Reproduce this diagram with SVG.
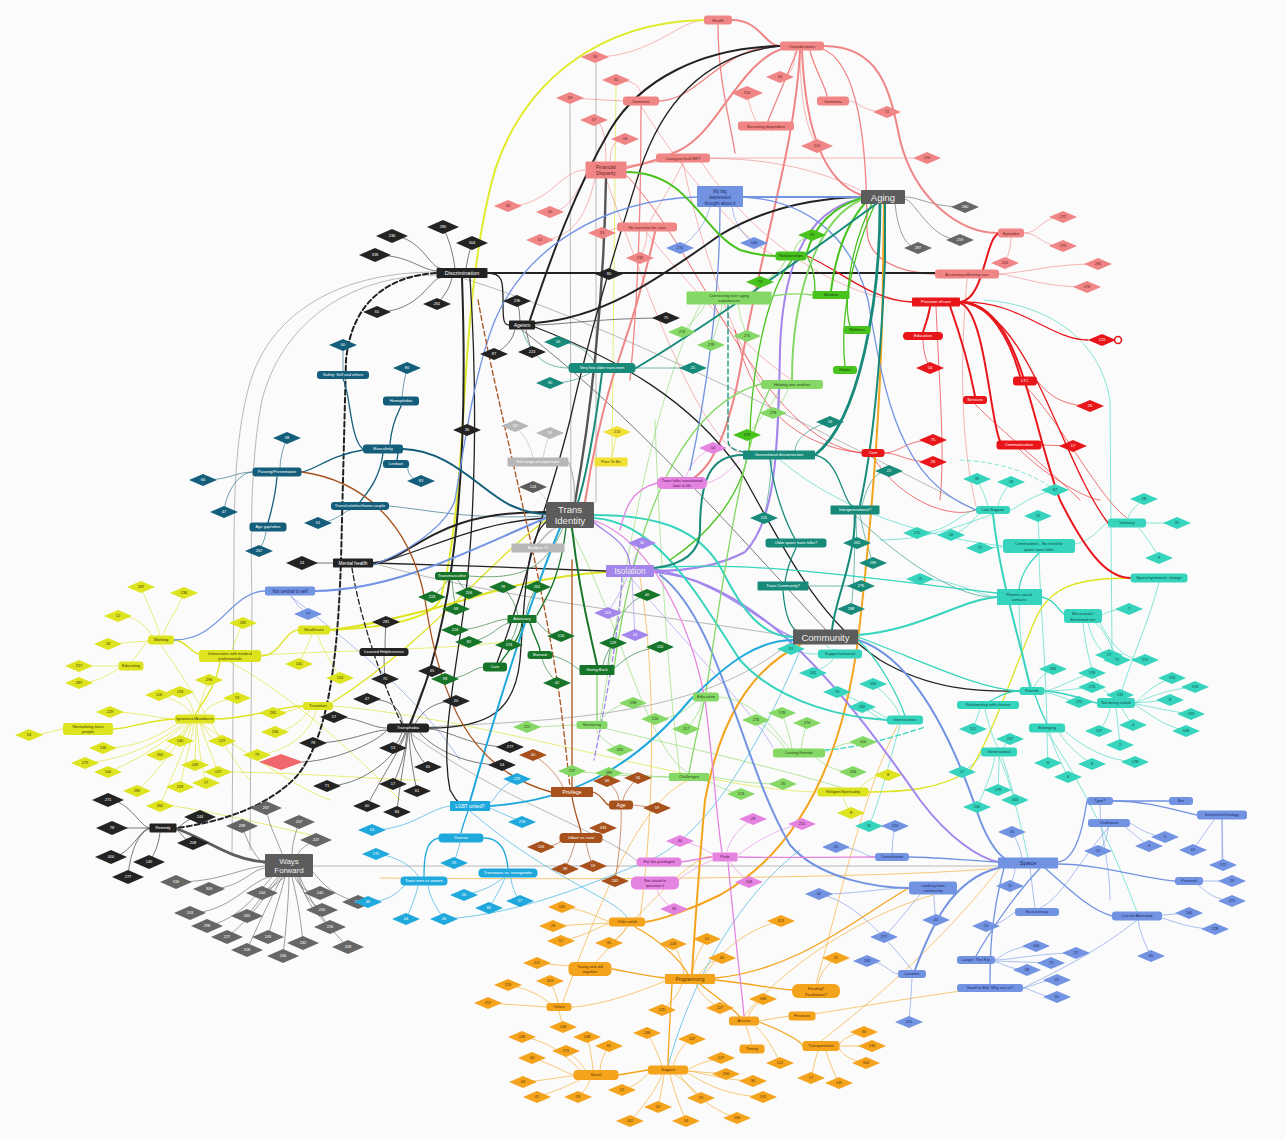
<svg xmlns="http://www.w3.org/2000/svg" width="1285" height="1140" viewBox="0 0 1285 1140">
<style>
text{font-family:"Liberation Sans",Arial,sans-serif;font-size:4px;text-anchor:middle;fill:#fff}
.pk{fill:#ef8585}.pk text{fill:#6b1f1f}
.rd{fill:#e8161b}.gy{fill:#5c5c5c}.bk{fill:#232323}.wg{fill:#666}.tl{fill:#145e7c}
.ye{fill:#dde31e}.ye text{fill:#3d3d00}.fy{fill:#f1e035}.fy text{fill:#4a3d00}
.dg{fill:#17752a}.lg{fill:#86d866}.lg text{fill:#1f4512}.bg{fill:#48c21d}.bg text{fill:#143d08}
.dt{fill:#178a7a}.tq{fill:#36d4bd}.tq text{fill:#0b4a43}.bl{fill:#7193e2}.bl text{fill:#1a2c66}
.cy{fill:#1fa8dc}.br{fill:#a7511c}.mg{fill:#e584e0}.mg text{fill:#5a1057}.pu{fill:#a385ec}
.lt{fill:#b7b7b7}.or{fill:#f4a31c}.or text{fill:#5a3300}.xr{fill:#f0676d}
.M{font-size:9.5px;fill:#eee}.S{font-size:5px}
#connectors path{fill:none;stroke-linecap:round}
.a{stroke-width:.7;stroke-opacity:.85}.b{stroke-width:1.3}.c{stroke-width:2}.d{stroke-width:2.8}
.ds{stroke-dasharray:5 3}
.Spk{stroke:#ef8585}.Srd{stroke:#e8161b}.Sbk{stroke:#222}.Sgy{stroke:#8a8a8a}.Swg{stroke:#5e5e5e}.Stl{stroke:#145e7c}
.Sye{stroke:#dde31e}.Sdg{stroke:#17752a}.Slg{stroke:#86d866}.Sbg{stroke:#48c21d}.Sdt{stroke:#178a7a}.Stq{stroke:#36d4bd}
.Sbl{stroke:#7193e2}.Scy{stroke:#1fa8dc}.Sbr{stroke:#a7511c}.Smg{stroke:#e584e0}.Spu{stroke:#a385ec}.Slt{stroke:#b7b7b7}.Sor{stroke:#f4a31c}
</style>
<defs>
<path id="d" d="M-14,0L0,-6L14,0L0,6Z"/>
<path id="D" d="M-16,0L0,-7L16,0L0,7Z"/>
</defs>
<rect width="1285" height="1140" fill="#fbfbfb"/>
<g id="connectors">
<!-- thin cross links -->
<path class="a Sgy" d="M596,63 L596,502"/>
<path class="a Sgy" d="M570,104 L571,502"/>
<path class="a Sye" d="M616,86 L612,457"/>
<path class="a Sgy" d="M373,563 C500,600 700,620 793,637"/>
<path class="a Sgy" d="M408,728 C550,720 700,720 793,640"/>
<path class="a Sgy" d="M462,278 C600,320 800,420 976,510"/>
<path class="a Sbk" d="M522,330 C640,420 760,560 826,630"/>
<path class="a Slg" d="M570,528 C620,620 650,760 690,773"/>
<path class="a Slg" d="M592,725 C650,740 750,760 843,788"/>
<path class="a Spk" d="M646,232 C700,300 760,360 792,380"/>
<path class="a Spk" d="M606,179 C650,300 700,440 743,455"/>
<path class="a Spk" d="M700,160 C760,250 850,300 912,302"/>
<path class="a Spk" d="M626,166 C720,150 800,160 860,190"/>
<path class="a Spk" d="M683,163 C700,250 740,350 761,384"/>
<path class="a Spk" d="M641,106 C700,200 760,250 775,256"/>
<path class="a Spk" d="M967,279 C960,360 960,440 976,506"/>
<path class="a Stq" d="M985,300 C1050,305 1100,340 1110,400 L1112,650"/>
<path class="a Sdt" d="M855,515 C900,560 960,600 997,597"/>
<path class="a Stq" d="M779,459 C850,520 950,540 1003,546"/>
<path class="a Spu" d="M630,577 C700,660 760,720 773,748"/>
<path class="a Sgy" d="M410,733 C500,800 600,830 636,860"/>
<path class="a Scy" d="M470,811 C550,880 620,900 627,918"/>
<path class="a Scy" d="M668,1066 C700,950 760,880 800,850"/>
<path class="a Sor" d="M560,1010 C600,900 640,800 689,780"/>
<path class="a Sor" d="M590,969 C650,900 700,850 712,857"/>
<path class="a Sor" d="M816,984 C840,900 860,800 900,720"/>
<path class="a Sor" d="M821,1041 C900,980 950,930 1000,868"/>
<path class="a Sor" d="M802,1016 C900,1000 960,990 990,988"/>
<path class="a Sor" d="M744,1016 C800,950 880,910 933,895"/>
<path class="a Sor" d="M998,868 C900,878 600,880 380,878"/>
<path class="a Sor" d="M640,577 C660,700 650,850 640,917"/>
<path class="a Sbl" d="M912,970 C880,930 850,900 819,894"/>
<path class="a Sbl" d="M1137,920 C1100,950 1060,970 1023,988"/>
<path class="a Sbl" d="M1109,827 C1080,860 1060,900 1040,908"/>
<path class="a Sbl" d="M1222,819 L1222,860"/>
<path class="a Sbl" d="M1100,805 C1100,840 1110,860 1110,900"/>
<path class="a Sbl" d="M290,596 C360,650 420,700 460,760"/>
<path class="a Stq" d="M1028,858 C1020,820 1010,780 999,757"/>
<path class="a Stq" d="M1047,732 C1080,780 1110,840 1137,912"/>
<path class="a Stq" d="M1083,623 C1090,680 1100,690 1116,698"/>
<path class="a Stq" d="M1019,605 C1020,650 1025,670 1032,687"/>
<path class="a Stq" d="M1159,582 C1150,620 1130,660 1120,698"/>
<path class="a Stq" d="M1039,553 C1040,600 1045,650 1047,724"/>
<path class="a Stq" d="M993,514 C950,530 920,540 880,540"/>
<path class="a Srd" d="M936,306 C940,400 945,450 940,500"/>
<path class="a Srd" d="M873,457 C900,500 950,520 976,510"/>
<path class="a Srd" d="M1025,386 C1060,420 1100,500 1127,518"/>
<path class="a Srd" d="M1019,449 C1050,480 1090,500 1100,500"/>
<path class="a Srd" d="M975,404 C1000,430 1050,470 1080,500"/>
<path class="a Srd" d="M626,175 C700,250 760,440 862,453"/>
<path class="a Srd" d="M862,453 C790,445 750,400 735,330"/>
<path class="a Sye" d="M230,662 C300,700 360,760 400,800"/>
<path class="a Sye" d="M193,719 C260,760 300,790 330,800"/>
<path class="a Sye" d="M161,645 C200,700 230,760 250,780"/>
<path class="a Sye" d="M174,806 C230,815 290,830 330,840"/>
<path class="a Sye" d="M218,772 C300,772 380,780 420,780"/>
<path class="a Sye" d="M261,655 C350,650 450,650 520,640"/>
<path class="a Sye" d="M333,706 C500,720 700,790 817,792"/>
<path class="a Sgy" d="M313,866 L998,866"/>
<path class="a Sbk" d="M303,762 C340,760 380,740 387,730"/>
<path class="a Scy" d="M444,919 C520,915 600,880 650,860 C720,830 780,700 800,650"/>
<path class="a Sgy" d="M436,272 C330,272 265,320 248,390 C235,440 234,500 234,560 L232,855"/>
<path class="a Sgy" d="M436,275 C340,276 280,330 262,400 C252,450 250,520 252,600 L250,850"/>
<path class="a Stl" d="M389,506 C430,510 470,520 546,516"/>
<path class="a Slg" d="M655,420 C660,560 670,700 680,773"/>
<path class="a Slg" d="M700,305 C650,400 620,600 600,721"/>
<path class="a Smg" d="M707,483 C720,480 730,470 740,460"/>
<path class="a Smg" d="M712,860 C690,870 680,878 679,880"/>
<path class="a Stq" d="M960,460 C1000,462 1030,472 1055,490" stroke-dasharray="4 3"/>
<!-- diamond links -->
<g class="a Spk">
<path d="M595,57 C650,57 680,20 704,20"/><path d="M616,80 Q641,80 641,96"/><path d="M570,98 L623,101"/><path d="M594,120 Q606,120 606,162"/><path d="M625,139 Q610,139 610,162"/><path d="M508,206 C550,206 560,170 585,170"/><path d="M550,212 C575,212 580,175 590,175"/><path d="M602,233 L617,228"/><path d="M540,240 C580,240 590,200 595,178"/><path d="M640,258 Q647,245 647,232"/><path d="M780,77 Q795,77 795,51"/><path d="M747,93 Q750,110 756,121"/><path d="M887,112 C860,112 860,101 849,101"/><path d="M913,158 L710,158"/><path d="M817,146 Q800,120 800,51"/><path d="M1063,217 C1040,217 1040,233 1024,233"/><path d="M1063,246 C1040,246 1040,233 1024,233"/><path d="M1005,263 Q1011,250 1011,237"/><path d="M1098,264 C1050,264 1030,272 999,274"/><path d="M1087,287 C1040,287 1020,276 999,274"/>
</g>
<g class="a Srd">
<path d="M930,368 Q923,355 923,340"/><path d="M933,440 C905,440 900,453 884,453"/><path d="M933,462 C905,462 900,453 884,453"/><path d="M1090,406 C1050,406 1040,381 1037,381"/><path d="M1073,446 L1041,445"/>
</g>
<g class="a Swg">
<path d="M965,207 C930,207 920,197 905,197"/><path d="M960,240 C930,240 915,200 905,199"/><path d="M918,248 Q900,248 895,204"/>
</g>
<g class="a Sbk">
<path d="M443,227 Q452,245 455,268"/><path d="M392,236 C420,236 430,268 440,268"/><path d="M472,243 Q468,255 466,268"/><path d="M375,255 C410,255 420,270 437,271"/><path d="M437,304 Q450,290 452,278"/><path d="M377,312 C420,312 430,278 440,278"/><path d="M517,301 Q520,310 520,321"/><path d="M494,354 Q512,345 515,330"/><path d="M532,352 Q528,340 526,330"/><path d="M666,318 C600,318 560,325 535,325"/><path d="M386,622 Q385,635 385,648"/><path d="M385,679 Q384,665 384,656"/><path d="M367,699 C395,699 400,710 403,724"/><path d="M456,701 C430,701 420,715 415,724"/><path d="M432,671 C420,690 415,710 412,724"/><path d="M334,717 C360,717 370,728 387,728"/><path d="M393,748 Q400,740 402,733"/><path d="M510,747 C470,747 450,730 429,729"/><path d="M316,563 L333,563"/><path d="M313,743 C350,743 370,730 387,730"/>
<path d="M108,800 C130,800 140,828 150,828"/><path d="M112,828 L150,828"/><path d="M111,857 C130,857 140,828 150,828"/><path d="M149,862 Q158,850 160,833"/><path d="M128,877 C130,850 140,830 150,829"/><path d="M200,817 C185,817 182,828 176,828"/><path d="M193,843 C185,843 180,830 176,829"/>
<path d="M327,786 C360,786 395,760 405,733"/><path d="M367,806 C380,780 400,750 406,733"/><path d="M393,784 Q405,760 407,733"/><path d="M417,791 Q410,760 409,733"/><path d="M428,767 Q412,750 411,733"/><path d="M397,812 C400,780 405,760 408,733"/><path d="M502,765 C460,765 430,745 420,733"/>
</g>
<g class="a Swg">
<path d="M242,826 C250,850 260,862 265,864"/><path d="M266,808 C270,830 280,845 282,854"/><path d="M299,822 C295,835 292,845 292,854"/><path d="M316,840 C305,845 300,850 298,854"/><path d="M176,882 C220,882 240,868 265,866"/><path d="M209,889 C240,889 250,870 265,868"/><path d="M262,893 C270,890 280,880 285,877"/><path d="M190,913 C230,913 250,880 270,877"/><path d="M247,916 C260,900 270,885 278,877"/><path d="M207,926 C240,920 260,890 272,877"/><path d="M227,937 C250,920 270,890 280,877"/><path d="M268,937 C275,910 282,890 285,877"/><path d="M303,943 C300,910 295,890 292,877"/><path d="M247,950 C260,920 275,890 282,877"/><path d="M283,956 C287,920 289,890 289,877"/><path d="M320,893 C305,893 298,885 295,877"/><path d="M322,910 C305,900 300,885 297,877"/><path d="M330,927 C310,910 302,890 299,877"/><path d="M348,947 C320,920 305,890 300,877"/><path d="M358,902 C330,895 320,880 313,872"/>
</g>
<g class="a Stl">
<path d="M287,438 Q280,455 280,468"/><path d="M203,480 C230,480 235,472 253,472"/><path d="M224,512 C226,490 240,472 253,472"/><path d="M318,523 C335,523 345,510 350,510"/><path d="M259,551 Q265,540 266,532"/><path d="M343,345 L343,371"/><path d="M407,368 Q403,385 402,397"/><path d="M421,481 C410,481 405,468 409,464"/>
</g>
<g class="a Sye">
<path d="M141,587 C150,610 158,625 160,636"/><path d="M184,593 C175,615 165,625 163,636"/><path d="M118,616 C140,616 148,630 152,636"/><path d="M108,644 L148,641"/><path d="M243,623 Q235,640 232,650"/><path d="M79,666 L118,666"/><path d="M79,683 C100,683 115,670 120,668"/><path d="M209,680 Q200,700 198,715"/><path d="M159,695 C180,700 190,710 192,715"/><path d="M180,692 Q192,700 194,715"/><path d="M237,698 C215,700 205,710 202,715"/><path d="M299,664 C305,650 310,640 312,635"/><path d="M110,712 C140,712 160,719 175,719"/><path d="M29,735 C45,735 55,730 63,729"/><path d="M103,748 C150,748 170,725 180,723"/><path d="M180,741 Q188,730 190,723"/><path d="M222,741 C210,741 205,730 202,723"/><path d="M275,732 C295,730 305,715 310,710"/><path d="M273,713 C290,713 295,708 303,707"/><path d="M160,755 C175,740 185,730 188,723"/><path d="M257,755 C300,750 315,720 316,710"/><path d="M85,763 C130,760 170,735 184,723"/><path d="M108,772 C140,760 175,735 186,723"/><path d="M137,791 C160,770 180,740 190,723"/><path d="M160,806 C170,780 185,750 192,723"/><path d="M180,787 C185,760 192,740 194,723"/><path d="M206,783 C200,760 198,740 197,723"/><path d="M195,765 L196,723"/><path d="M218,772 C210,750 203,735 200,723"/><path d="M340,678 C330,660 320,645 318,635"/><path d="M617,432 L612,457"/><path d="M888,775 C870,775 862,786 860,788"/><path d="M851,813 Q845,805 843,797"/>
</g>
<g class="a Sdg">
<path d="M432,597 C440,590 445,585 448,580"/><path d="M469,593 Q460,585 458,580"/><path d="M456,609 Q453,595 452,580"/><path d="M455,630 C480,630 495,619 508,619"/><path d="M469,642 C490,640 500,623 510,623"/><path d="M503,587 Q515,600 518,615"/><path d="M537,587 Q528,600 526,615"/><path d="M509,645 Q515,635 518,623"/><path d="M561,636 C545,636 540,623 536,621"/><path d="M613,643 Q605,655 603,665"/><path d="M445,679 C465,679 475,667 483,667"/><path d="M557,683 Q545,670 542,659"/><path d="M647,595 C620,600 610,640 608,665"/><path d="M660,647 C630,650 620,665 614,668"/>
</g>
<g class="a Slg">
<path d="M682,332 Q700,315 705,305"/><path d="M711,345 Q720,320 722,305"/><path d="M747,336 Q740,320 738,305"/><path d="M773,413 Q785,400 788,389"/><path d="M747,435 C760,420 775,400 780,389"/><path d="M527,727 C550,727 565,725 577,725"/><path d="M633,703 C615,703 605,715 600,721"/><path d="M620,750 Q600,740 596,729"/><path d="M572,771 C610,775 640,777 669,777"/><path d="M609,773 C630,773 650,777 669,777"/><path d="M783,784 C740,784 720,777 709,777"/><path d="M741,794 C720,790 710,780 705,781"/><path d="M853,772 C830,772 820,760 815,757"/><path d="M655,719 C680,719 690,705 697,701"/><path d="M686,729 Q700,715 702,701"/><path d="M756,720 C770,730 780,740 785,749"/><path d="M782,713 Q790,735 792,749"/><path d="M807,723 Q802,740 801,749"/><path d="M863,742 C840,742 830,750 825,752"/>
</g>
<g class="a Sbg"><path d="M812,235 Q795,240 794,252"/><path d="M760,282 Q780,275 785,261"/></g>
<g class="a Sdt">
<path d="M693,368 L636,368"/><path d="M830,422 C800,430 795,445 795,451"/><path d="M764,518 Q770,490 772,460"/><path d="M889,471 C870,471 865,495 862,506"/><path d="M857,543 Q856,530 856,515"/><path d="M873,563 C865,540 862,525 860,515"/><path d="M861,586 L809,586"/><path d="M851,609 C855,580 855,540 854,515"/><path d="M558,342 C580,342 590,355 595,363"/><path d="M550,383 C575,383 585,375 590,373"/>
</g>
<g class="a Stq">
<path d="M917,533 C950,533 960,512 976,510"/><path d="M951,535 C970,530 975,514 980,514"/><path d="M920,579 C960,580 980,597 997,597"/><path d="M791,649 C805,654 810,654 818,654"/><path d="M813,673 Q830,665 833,659"/><path d="M837,692 C860,700 880,715 887,718"/><path d="M873,684 Q895,700 900,716"/><path d="M862,707 C875,715 880,720 887,720"/><path d="M977,479 Q985,495 988,506"/><path d="M1011,482 Q1000,495 998,506"/><path d="M1055,490 C1030,495 1015,510 1010,510"/><path d="M1038,516 L1039,539"/><path d="M980,548 L1003,547"/><path d="M1144,499 Q1130,510 1128,518"/><path d="M1177,523 L1146,523"/><path d="M1159,558 C1150,540 1140,530 1138,527"/><path d="M1129,609 C1110,609 1105,614 1102,615"/><path d="M1109,655 C1095,650 1090,630 1088,623"/><path d="M1117,660 C1110,640 1100,625 1095,623"/><path d="M1145,660 C1120,660 1110,640 1100,623"/><path d="M1053,669 C1040,675 1035,685 1034,687"/><path d="M1092,673 C1070,680 1055,690 1045,691"/><path d="M1092,687 C1070,690 1055,691 1045,691"/><path d="M1079,702 C1065,700 1055,693 1045,693"/><path d="M1172,678 C1150,685 1140,700 1135,703"/><path d="M1195,687 C1160,690 1145,700 1135,703"/><path d="M1170,700 L1135,703"/><path d="M1191,714 C1160,710 1145,705 1135,704"/><path d="M1186,731 C1160,725 1145,710 1135,705"/><path d="M1133,725 Q1125,715 1122,708"/><path d="M1099,731 Q1108,720 1110,708"/><path d="M1120,745 Q1118,725 1116,708"/><path d="M973,729 Q978,715 980,709"/><path d="M1010,739 Q1005,745 1003,748"/><path d="M962,772 C975,765 980,756 981,754"/><path d="M1048,763 Q1047,745 1047,733"/><path d="M1092,764 C1070,750 1060,735 1060,733"/><path d="M1135,762 C1100,760 1075,740 1065,731"/><path d="M1068,777 C1060,760 1052,745 1050,733"/><path d="M998,790 Q999,770 999,757"/><path d="M1015,800 C1010,780 1005,765 1002,757"/><path d="M977,807 C985,790 993,770 995,757"/><path d="M869,826 C880,800 890,760 900,725"/>
</g>
<g class="a Sbl">
<path d="M680,248 Q705,230 710,207"/><path d="M754,243 Q735,230 732,207"/><path d="M308,614 Q295,605 292,596"/><path d="M836,847 C860,847 865,857 875,857"/><path d="M819,894 C860,894 880,888 909,888"/><path d="M936,920 Q934,905 934,895"/><path d="M884,937 C900,920 915,900 920,895"/><path d="M867,961 C885,961 890,974 898,974"/><path d="M909,1022 Q911,1000 912,978"/><path d="M895,826 Q892,840 892,853"/><path d="M1012,832 Q1020,845 1022,858"/><path d="M1098,851 C1105,845 1108,835 1108,827"/><path d="M1165,837 C1145,835 1135,825 1130,823"/><path d="M1149,846 C1140,840 1130,830 1125,827"/><path d="M1193,850 C1200,840 1210,825 1215,819"/><path d="M1223,865 L1222,819"/><path d="M1232,881 L1203,881"/><path d="M1232,901 C1210,900 1200,885 1198,885"/><path d="M1010,886 Q1015,875 1015,868"/><path d="M986,926 C1000,926 1010,915 1015,912"/><path d="M1189,913 L1162,915"/><path d="M1215,929 C1190,929 1170,920 1162,918"/><path d="M1036,946 C1010,946 1000,958 995,960"/><path d="M1076,953 C1040,953 1010,960 995,960"/><path d="M1151,956 Q1140,935 1138,920"/><path d="M1051,963 L995,961"/><path d="M1027,970 C1010,970 1000,962 995,962"/><path d="M1057,980 C1040,980 1030,988 1023,988"/><path d="M1057,997 C1040,997 1030,988 1023,988"/>
</g>
<g class="a Scy">
<path d="M517,779 C500,785 495,800 490,803"/><path d="M522,822 C505,815 495,810 490,808"/><path d="M372,830 C410,830 430,808 450,806"/><path d="M376,854 C400,856 415,870 418,876"/><path d="M454,863 Q458,850 460,843"/><path d="M464,895 C490,890 500,880 503,878"/><path d="M489,908 Q500,890 505,878"/><path d="M520,901 Q512,890 511,878"/><path d="M406,919 Q415,900 418,886"/><path d="M444,919 Q430,900 428,886"/><path d="M368,902 C390,902 400,890 405,885"/>
</g>
<g class="a Sbr">
<path d="M533,755 C550,765 560,780 563,787"/><path d="M607,781 Q618,790 619,800"/><path d="M638,778 Q625,790 623,800"/><path d="M603,828 Q595,833 590,834"/><path d="M541,847 C555,847 560,842 562,840"/><path d="M565,869 Q572,855 575,843"/><path d="M593,866 Q588,855 586,843"/><path d="M615,881 C620,850 622,820 621,810"/><path d="M657,808 L633,805"/>
</g>
<g class="a Smg">
<path d="M753,819 C735,830 728,845 727,852"/><path d="M802,824 C770,830 745,850 738,855"/><path d="M680,841 C700,845 710,852 713,855"/><path d="M749,882 Q735,870 730,862"/><path d="M674,909 Q660,900 657,890"/><path d="M713,448 C695,455 688,470 686,477"/>
</g>
<g class="a Spu"><path d="M642,543 Q635,555 633,565"/><path d="M608,613 C615,600 625,585 627,577"/><path d="M635,635 Q633,600 632,577"/></g>
<g class="a Slt"><path d="M515,426 Q530,440 533,458"/><path d="M550,433 Q545,445 543,458"/><path d="M533,487 C545,495 550,505 550,508"/></g>
<g class="a Sor">
<path d="M562,907 C590,910 600,920 609,921"/><path d="M553,926 L609,923"/><path d="M561,941 C590,935 600,925 609,924"/><path d="M537,963 L569,966"/><path d="M609,943 Q625,935 626,927"/><path d="M508,985 C535,990 545,1000 550,1003"/><path d="M550,981 Q557,995 558,1003"/><path d="M488,1003 L547,1007"/><path d="M563,1027 Q560,1015 559,1011"/><path d="M522,1037 C550,1040 570,1060 580,1070"/><path d="M587,1037 Q592,1055 593,1070"/><path d="M609,1046 Q600,1060 600,1070"/><path d="M566,1051 Q580,1060 585,1070"/><path d="M532,1058 C555,1065 565,1073 574,1075"/><path d="M523,1082 C550,1080 565,1076 574,1076"/><path d="M537,1097 C560,1090 575,1082 580,1080"/><path d="M578,1097 Q588,1088 590,1080"/><path d="M622,1090 C640,1085 645,1075 650,1072"/><path d="M630,1121 C650,1100 660,1080 662,1075"/><path d="M781,921 C740,930 715,960 705,974"/><path d="M673,944 Q683,960 684,974"/><path d="M707,939 Q695,955 692,974"/><path d="M722,958 C710,960 702,970 700,974"/><path d="M836,958 Q820,970 818,984"/><path d="M763,999 C755,1005 750,1012 748,1017"/><path d="M662,1010 C675,1000 680,990 682,984"/><path d="M720,1008 C705,1000 698,990 696,984"/><path d="M647,1033 C655,1045 660,1060 662,1066"/><path d="M692,1039 C680,1045 675,1060 673,1066"/><path d="M721,1058 C700,1062 692,1068 688,1069"/><path d="M726,1074 L688,1071"/><path d="M753,1081 C720,1080 700,1072 688,1071"/><path d="M780,1063 C770,1040 760,1030 755,1026"/><path d="M864,1032 C845,1035 840,1043 839,1045"/><path d="M872,1046 L839,1046"/><path d="M866,1063 C845,1060 840,1050 839,1048"/><path d="M811,1078 Q815,1060 818,1051"/><path d="M839,1083 Q830,1065 826,1051"/><path d="M701,1098 C690,1085 680,1078 675,1075"/><path d="M763,1097 C720,1095 700,1080 688,1073"/><path d="M658,1107 Q662,1090 664,1075"/><path d="M686,1121 Q675,1095 670,1075"/><path d="M737,1118 C710,1110 690,1090 680,1075"/>
</g>
<!-- main connectors -->
<path class="b Sgy" d="M606,178 C604,300 590,420 575,502" style="stroke:#555;stroke-width:2.4"/>
<path class="c Spk" d="M732,20 C760,20 765,46 780,46"/>
<path class="c Spk" d="M802,51 C805,120 820,180 861,195"/>
<path class="b Spk" d="M810,51 C815,70 825,85 827,96"/>
<path class="c Spk" d="M824,46 C880,46 890,90 900,140 C915,200 960,233 998,233"/>
<path class="b Spk" d="M820,48 C860,60 867,150 867,230 C867,260 900,273 935,274"/>
<path class="c Spk" d="M785,48 C740,60 720,130 680,150 C660,160 640,165 626,168"/>
<path class="c Spk" d="M800,51 C795,150 760,250 740,370 C725,450 705,470 695,477"/>
<path class="b Spk" d="M718,25 C718,80 730,120 735,153"/>
<path class="b Spk" d="M780,46 C720,46 700,100 659,101"/>
<path class="b Spk" d="M797,51 L768,121"/>
<path class="c Spk" d="M655,232 C640,300 625,340 612,380 C600,420 590,470 585,502"/>
<path class="a Spk" d="M683,163 C670,190 655,210 650,222"/>
<path class="b Spk" d="M641,106 C641,200 638,300 630,380"/>
<path class="c Sye" d="M704,20 C600,22 525,80 495,170 C475,240 468,330 463,420 C458,500 452,560 440,600 C430,620 380,628 330,630" style="stroke:#e2ea2c"/>
<path class="c Sye" d="M606,572 C520,578 470,600 420,612 C380,622 350,628 330,630"/>
<path class="b Sye" d="M546,520 C490,560 430,640 333,702"/>
<path class="b Sye" d="M261,656 C280,656 285,630 298,630"/>
<path class="b Sye" d="M174,640 C185,640 190,652 199,654"/>
<path class="a Sye" d="M148,640 C140,650 135,660 131,662"/>
<path class="b Sye" d="M220,662 C215,690 200,705 195,715"/>
<path class="b Sye" d="M175,719 C150,720 130,728 113,729"/>
<path class="b Sye" d="M215,719 C250,719 280,706 303,706"/>
<path class="b Sye" d="M1131,578 C1080,578 1050,585 1035,620 C1010,680 990,740 970,770 C940,790 900,792 868,792"/>
<path class="c Sbk" d="M488,273 L935,273"/>
<path class="b Sbk" d="M487,273 C503,273 503,282 503,300 C503,318 503,325 509,325"/>
<path class="c Sbk" d="M535,323 C600,318 650,285 720,235 C770,205 820,198 861,197"/>
<path class="c Sbk" d="M780,46 C700,48 640,80 610,130 C575,190 550,260 530,320"/>
<path class="b Sbk" d="M780,46 C700,55 660,110 640,170 C615,250 590,330 570,420 C555,480 540,520 530,560 C520,600 505,640 497,663"/>
<path class="c Sbk" d="M462,278 C465,360 465,450 455,540 C445,630 425,690 410,724"/>
<path class="b Sbk" d="M470,278 C478,400 475,520 465,600 C455,680 440,740 450,790 C455,800 460,804 462,806"/>
<path class="c Sbk" d="M546,512 C470,512 440,530 410,548 C395,558 385,562 373,563"/>
<path class="b Sbk" d="M546,518 C480,522 440,545 373,565"/>
<path class="b Sbk" d="M373,563 C450,565 530,568 606,571"/>
<path class="b Sbk" d="M429,728 C490,728 515,710 520,660 C525,600 525,540 546,522"/>
<path class="b Sbk" d="M535,327 C620,360 690,400 740,470 C790,560 820,620 880,660 C930,690 980,692 1020,691"/>
<path class="c Sbk ds" d="M436,273 C390,276 352,300 346,360 L341,560 C338,650 330,740 295,778 C265,808 220,822 177,828"/>
<path class="b Sbk ds" d="M352,568 C360,620 385,690 402,724"/>
<path class="d Swg" d="M265,862 C230,860 205,838 177,829"/>
<path class="c Sor" d="M884,204 L883,270 C882,400 872,520 858,640 C842,760 800,850 720,895 C690,910 660,920 645,922"/>
<path class="c Sor" d="M800,645 C750,670 720,720 705,800 C698,880 694,940 692,974"/>
<path class="b Sor" d="M715,978 C800,970 860,915 909,888"/>
<path class="b Sor" d="M715,980 C760,985 780,990 792,990"/>
<path class="b Sor" d="M672,984 C670,1020 668,1050 668,1065"/>
<path class="b Sor" d="M700,984 C720,1000 735,1010 740,1017"/>
<path class="b Sor" d="M665,978 C640,975 620,970 612,969"/>
<path class="a Sor" d="M665,981 C620,1000 590,1006 572,1007"/>
<path class="b Sor" d="M635,927 C660,940 680,960 688,974"/>
<path class="a Sor" d="M746,1026 L752,1045"/>
<path class="a Sor" d="M759,1021 L789,1016"/>
<path class="b Sor" d="M759,1022 C780,1030 800,1040 803,1046"/>
<path class="b Sor" d="M648,1070 L618,1075"/>
<path class="c Spu" d="M861,199 C800,210 782,280 780,350 C778,450 776,520 745,552 C715,568 680,571 654,571"/>
<path class="c Spu" d="M654,572 C760,580 850,700 920,800 C950,840 980,858 998,862"/>
<path class="b Spu ds" d="M622,577 C618,640 606,700 594,760"/>
<path class="b Spu" d="M630,565 C628,540 600,530 594,522"/>
<path class="b Spu" d="M654,569 C720,580 770,630 793,637"/>
<path class="c Sbl" d="M861,197 L743,197"/>
<path class="b Sbl" d="M697,197 C600,200 525,250 495,320 C475,370 465,440 455,500 C445,530 400,555 373,565"/>
<path class="c Sbl" d="M315,591 C400,590 480,545 546,518"/>
<path class="b Sbl" d="M174,640 C220,640 230,592 265,591"/>
<path class="b Sbl" d="M720,207 C720,300 705,400 690,470"/>
<path class="b Sbl" d="M743,197 C800,200 850,230 868,300 C885,400 900,480 976,510"/>
<path class="c Sbl" d="M858,640 C920,660 960,760 980,820 C990,845 1000,855 1004,858"/>
<path class="c Sbl" d="M660,575 C720,620 740,760 790,845 C820,880 880,888 909,888"/>
<path class="c Sbl" d="M998,868 C950,880 930,930 915,970"/>
<path class="b Sbl" d="M1040,868 C1010,900 985,940 976,956"/>
<path class="b Sbl" d="M1004,868 C990,920 990,960 990,984"/>
<path class="b Sbl" d="M1058,862 C1080,860 1085,810 1087,801"/>
<path class="b Sbl" d="M1113,801 L1169,801"/>
<path class="b Sbl" d="M1113,801 C1150,801 1180,812 1197,815"/>
<path class="b Sbl" d="M1058,864 C1100,864 1150,880 1175,881"/>
<path class="b Sbl" d="M1045,868 C1070,890 1090,910 1112,916"/>
<path class="a Sbl" d="M1030,868 L1035,908"/>
<path class="b Sbl" d="M998,862 C960,860 930,857 909,857"/>
<path class="c Stq" d="M594,515 C660,515 700,530 722,570 C742,610 762,637 793,637"/>
<path class="c Stq" d="M594,518 C660,522 700,600 740,660 C780,705 850,718 887,720"/>
<path class="c Stq" d="M858,635 C920,630 960,600 997,597"/>
<path class="b Stq" d="M654,568 C760,560 880,580 997,593"/>
<path class="b Stq" d="M1019,589 C1022,570 1032,560 1039,553"/>
<path class="c Stq" d="M993,514 C1000,580 1020,640 1030,687"/>
<path class="b Stq" d="M1042,597 C1055,600 1058,610 1064,614"/>
<path class="a Stq" d="M1075,544 C1095,540 1100,525 1108,523"/>
<path class="b Stq" d="M1019,691 C1000,692 995,700 990,701"/>
<path class="b Stq" d="M1035,695 C1040,710 1045,720 1047,724"/>
<path class="b Stq" d="M1045,691 C1070,693 1085,700 1097,703"/>
<path class="a Stq" d="M985,709 C990,730 995,745 999,748"/>
<path class="a Stq ds" d="M826,645 C830,650 835,650 840,650"/>
<path class="b Stq" d="M858,640 C880,660 900,700 905,716"/>
<path class="b Stq" d="M858,637 C920,660 980,690 1020,691"/>
<path class="b Stq ds" d="M825,750 C860,748 900,735 925,727"/>
<path class="c Srd" d="M960,302 C990,302 1010,340 1020,376"/>
<path class="c Srd" d="M950,306 C962,340 970,370 975,396"/>
<path class="c Srd" d="M960,303 C985,310 990,420 1000,441"/>
<path class="c Srd" d="M960,302 C1020,302 1030,420 1060,500 C1090,560 1110,578 1131,578"/>
<path class="b Srd" d="M960,302 C1030,310 1060,460 1108,523"/>
<path class="c Srd" d="M1000,233 C985,235 985,300 960,302"/>
<path class="c Srd" d="M930,307 C928,320 924,328 923,332"/>
<path class="b Srd" d="M960,302 C1020,300 1050,340 1088,340"/>
<path class="b Srd" d="M912,302 C870,300 840,270 807,256"/>
<path class="c Sbg" d="M626,172 C690,172 700,230 740,250 C760,256 770,256 776,256"/>
<path class="c Sbg" d="M861,198 C825,210 812,235 807,252"/>
<path class="c Sbg" d="M866,202 C845,225 835,260 831,291"/>
<path class="b Sbg" d="M872,203 C845,260 845,310 850,326"/>
<path class="b Sbg" d="M875,204 C850,260 840,320 845,366"/>
<path class="b Sbg" d="M807,256 C815,270 815,285 815,291"/>
<path class="b Sbg" d="M792,260 C760,300 750,400 750,440 C745,500 700,540 670,560"/>
<path class="b Slg" d="M772,296 C790,293 800,293 812,295"/>
<path class="c Slg" d="M861,200 C815,220 792,300 792,380"/>
<path class="b Slg" d="M761,384 C700,400 640,480 614,668"/>
<path class="b Slg" d="M770,388 C740,450 720,600 706,692"/>
<path class="b Sdt ds" d="M728,305 L728,440 C728,448 735,450 743,452"/>
<path class="b Slg" d="M689,773 C695,740 700,720 704,702"/>
<path class="a Slg" d="M719,697 C760,700 780,740 790,749"/>
<path class="b Slg" d="M597,721 L597,675"/>
<path class="d Sdt" d="M880,204 C880,300 860,420 815,455"/>
<path class="c Sdt" d="M876,204 C800,260 700,330 636,368"/>
<path class="c Sdt" d="M885,204 L885,260 C880,380 870,460 860,505"/>
<path class="b Sdt" d="M815,455 C840,460 842,500 852,506"/>
<path class="b Sdt" d="M770,459 C775,500 790,530 795,539"/>
<path class="c Sdt" d="M743,455 C710,455 700,480 700,530 C700,555 680,565 654,568"/>
<path class="c Sdt" d="M855,515 C855,560 835,600 832,630"/>
<path class="b Sdt" d="M783,591 C785,615 790,630 800,632"/>
<path class="b Sdt" d="M796,548 C790,560 786,575 785,582"/>
<path class="c Sdt" d="M602,373 C595,430 585,480 578,502"/>
<path class="a Sdt" d="M569,368 C540,368 530,350 522,330"/>
<path class="c Sdg" d="M572,528 C580,600 592,640 597,665"/>
<path class="b Sdg" d="M566,528 C560,580 545,600 537,615"/>
<path class="a Sdg" d="M563,528 C545,570 520,580 469,576"/>
<path class="b Sdg" d="M522,623 C520,640 505,655 500,663"/>
<path class="b Sdg" d="M530,623 C535,640 540,645 540,651"/>
<path class="a Sdg" d="M550,655 C570,660 575,668 580,670"/>
<path class="c Stl" d="M403,449 C450,450 480,490 510,505 C525,512 535,514 546,514"/>
<path class="b Stl" d="M390,444 C392,420 400,410 401,406"/>
<path class="b Stl" d="M363,449 C350,440 350,390 343,379"/>
<path class="b Stl" d="M398,453 L397,460"/>
<path class="b Stl" d="M383,453 C380,480 365,495 360,502"/>
<path class="b Stl" d="M363,450 C330,455 315,470 302,472"/>
<path class="b Stl" d="M277,477 C275,500 270,515 268,523"/>
<path class="b Scy" d="M468,811 C465,820 462,828 461,833"/>
<path class="b Scy" d="M439,838 C425,840 424,860 424,876"/>
<path class="b Scy" d="M484,838 C500,838 506,850 508,868"/>
<path class="c Scy" d="M490,806 C580,800 640,760 690,700 C730,660 760,640 793,640"/>
<path class="c Scy" d="M560,528 C530,600 500,700 482,760 C476,780 472,795 470,801"/>
<path class="b Sbr" d="M302,472 C360,480 410,520 425,600 C440,700 470,770 551,792"/>
<path class="b Sbr ds" d="M478,300 C500,420 540,560 560,700 C565,740 568,770 570,787"/>
<path class="b Sbr" d="M593,792 C603,795 605,805 609,805"/>
<path class="b Sbr" d="M572,797 C575,815 580,825 581,833"/>
<path class="b Sbr" d="M572,560 L572,787"/>
<path class="b Smg" d="M712,857 L681,862"/>
<path class="b Smg" d="M593,520 C650,540 690,620 705,700 C715,780 718,830 722,852"/>
<path class="b Smg" d="M728,862 C735,940 742,990 744,1016"/>
<path class="b Smg" d="M738,857 C800,858 850,857 875,857"/>
<path class="b Smg" d="M657,483 C630,490 625,510 620,530"/>
<path class="b Slt" d="M569,462 C575,480 575,495 574,502"/>
<path class="b Slt" d="M538,544 C545,536 550,530 556,528"/>
<circle cx="1118" cy="340" r="3.5" fill="none" stroke="#e8161b" stroke-width="1.6"/>
</g>
<g id="diamonds">
<g id="p1" class="pk"><use href="#d" x="595" y="57"/><text x="595" y="58.4">34</text></g>
<g id="p2" class="pk"><use href="#d" x="616" y="80"/><text x="616" y="81.4">30</text></g>
<g id="p3" class="pk"><use href="#d" x="570" y="98"/><text x="570" y="99.4">49</text></g>
<g id="p4" class="pk"><use href="#d" x="594" y="120"/><text x="594" y="121.4">57</text></g>
<g id="p5" class="pk"><use href="#d" x="625" y="139"/><text x="625" y="140.4">18</text></g>
<g id="p6" class="pk"><use href="#d" x="508" y="206"/><text x="508" y="207.4">34</text></g>
<g id="p7" class="pk"><use href="#d" x="550" y="212"/><text x="550" y="213.4">40</text></g>
<g id="p8" class="pk"><use href="#d" x="602" y="233"/><text x="602" y="234.4">33</text></g>
<g id="p9" class="pk"><use href="#d" x="540" y="240"/><text x="540" y="241.4">53</text></g>
<g id="p10" class="pk"><use href="#d" x="640" y="258"/><text x="640" y="259.4">232</text></g>
<g id="p11" class="pk"><use href="#d" x="780" y="77"/><text x="780" y="78.4">34</text></g>
<g id="p12" class="pk"><use href="#D" x="747" y="93"/><text x="747" y="94.4">214</text></g>
<g id="p13" class="pk"><use href="#d" x="887" y="112"/><text x="887" y="113.4">72</text></g>
<g id="p14" class="pk"><use href="#d" x="927" y="158"/><text x="927" y="159.4">174</text></g>
<g id="p15" class="pk"><use href="#D" x="817" y="146"/><text x="817" y="147.4">214</text></g>
<g id="p16" class="pk"><use href="#d" x="1063" y="217"/><text x="1063" y="218.4">272</text></g>
<g id="p17" class="pk"><use href="#d" x="1063" y="246"/><text x="1063" y="247.4">273</text></g>
<g id="p18" class="pk"><use href="#d" x="1005" y="263"/><text x="1005" y="264.4">201</text></g>
<g id="p19" class="pk"><use href="#d" x="1098" y="264"/><text x="1098" y="265.4">281</text></g>
<g id="p20" class="pk"><use href="#d" x="1087" y="287"/><text x="1087" y="288.4">176</text></g>
<g id="r1" class="rd"><use href="#d" x="930" y="368"/><text x="930" y="369.4">54</text></g>
<g id="r2" class="rd"><use href="#d" x="933" y="440"/><text x="933" y="441.4">75</text></g>
<g id="r3" class="rd"><use href="#d" x="933" y="462"/><text x="933" y="463.4">26</text></g>
<g id="r4" class="rd"><use href="#d" x="1090" y="406"/><text x="1090" y="407.4">26</text></g>
<g id="r5" class="rd"><use href="#d" x="1073" y="446"/><text x="1073" y="447.4">17</text></g>
<g id="r6" class="rd"><use href="#d" x="1102" y="340"/><text x="1102" y="341.4">123</text></g>
<g id="a1" class="wg"><use href="#d" x="965" y="207"/><text x="965" y="208.4">260</text></g>
<g id="a2" class="wg"><use href="#d" x="960" y="240"/><text x="960" y="241.4">259</text></g>
<g id="a3" class="wg"><use href="#d" x="918" y="248"/><text x="918" y="249.4">287</text></g>
<g id="k1" class="bk"><use href="#D" x="443" y="227"/><text x="443" y="228.4">285</text></g>
<g id="k2" class="bk"><use href="#D" x="392" y="236"/><text x="392" y="237.4">236</text></g>
<g id="k3" class="bk"><use href="#D" x="472" y="243"/><text x="472" y="244.4">304</text></g>
<g id="k4" class="bk"><use href="#D" x="375" y="255"/><text x="375" y="256.4">318</text></g>
<g id="k5" class="bk"><use href="#d" x="437" y="304"/><text x="437" y="305.4">261</text></g>
<g id="k6" class="bk"><use href="#d" x="377" y="312"/><text x="377" y="313.4">61</text></g>
<g id="k7" class="bk"><use href="#d" x="517" y="301"/><text x="517" y="302.4">236</text></g>
<g id="k8" class="bk"><use href="#d" x="494" y="354"/><text x="494" y="355.4">87</text></g>
<g id="k9" class="bk"><use href="#d" x="532" y="352"/><text x="532" y="353.4">213</text></g>
<g id="k10" class="bk"><use href="#d" x="609" y="274"/><text x="609" y="275.4">80</text></g>
<g id="k11" class="bk"><use href="#d" x="666" y="318"/><text x="666" y="319.4">75</text></g>
<g id="k12" class="bk"><use href="#d" x="467" y="430"/><text x="467" y="431.4">36</text></g>
<g id="k13" class="bk"><use href="#d" x="386" y="622"/><text x="386" y="623.4">281</text></g>
<g id="k14" class="bk"><use href="#d" x="385" y="679"/><text x="385" y="680.4">70</text></g>
<g id="k15" class="bk"><use href="#d" x="367" y="699"/><text x="367" y="700.4">47</text></g>
<g id="k16" class="bk"><use href="#d" x="456" y="701"/><text x="456" y="702.4">20</text></g>
<g id="k17" class="bk"><use href="#d" x="432" y="671"/><text x="432" y="672.4">35</text></g>
<g id="k18" class="bk"><use href="#d" x="334" y="717"/><text x="334" y="718.4">57</text></g>
<g id="k19" class="bk"><use href="#d" x="393" y="748"/><text x="393" y="749.4">13</text></g>
<g id="k20" class="bk"><use href="#d" x="510" y="747"/><text x="510" y="748.4">277</text></g>
<g id="k21" class="bk"><use href="#D" x="302" y="563"/><text x="302" y="564.4">24</text></g>
<g id="k22" class="bk"><use href="#d" x="313" y="743"/><text x="313" y="744.4">78</text></g>
<g id="k23" class="bk"><use href="#D" x="108" y="800"/><text x="108" y="801.4">271</text></g>
<g id="k24" class="bk"><use href="#D" x="112" y="828"/><text x="112" y="829.4">78</text></g>
<g id="k25" class="bk"><use href="#D" x="111" y="857"/><text x="111" y="858.4">400</text></g>
<g id="k26" class="bk"><use href="#D" x="149" y="862"/><text x="149" y="863.4">145</text></g>
<g id="k27" class="bk"><use href="#D" x="128" y="877"/><text x="128" y="878.4">277</text></g>
<g id="k28" class="bk"><use href="#D" x="200" y="817"/><text x="200" y="818.4">244</text></g>
<g id="k29" class="bk"><use href="#D" x="193" y="843"/><text x="193" y="844.4">208</text></g>
<g id="k30" class="bk"><use href="#d" x="327" y="786"/><text x="327" y="787.4">71</text></g>
<g id="k31" class="bk"><use href="#d" x="367" y="806"/><text x="367" y="807.4">40</text></g>
<g id="k32" class="bk"><use href="#d" x="393" y="784"/><text x="393" y="785.4">17</text></g>
<g id="k33" class="bk"><use href="#d" x="417" y="791"/><text x="417" y="792.4">61</text></g>
<g id="k34" class="bk"><use href="#d" x="428" y="767"/><text x="428" y="768.4">65</text></g>
<g id="k35" class="bk"><use href="#d" x="397" y="812"/><text x="397" y="813.4">84</text></g>
<g id="k36" class="bk"><use href="#d" x="502" y="765"/><text x="502" y="766.4">54</text></g>
<g id="w1" class="wg"><use href="#D" x="242" y="826"/><text x="242" y="827.4">268</text></g>
<g id="w2" class="wg"><use href="#D" x="266" y="808"/><text x="266" y="809.4">267</text></g>
<g id="w3" class="wg"><use href="#D" x="299" y="822"/><text x="299" y="823.4">207</text></g>
<g id="w4" class="wg"><use href="#D" x="316" y="840"/><text x="316" y="841.4">247</text></g>
<g id="w5" class="wg"><use href="#D" x="176" y="882"/><text x="176" y="883.4">316</text></g>
<g id="w6" class="wg"><use href="#D" x="209" y="889"/><text x="209" y="890.4">309</text></g>
<g id="w7" class="wg"><use href="#D" x="262" y="893"/><text x="262" y="894.4">244</text></g>
<g id="w8" class="wg"><use href="#D" x="190" y="913"/><text x="190" y="914.4">203</text></g>
<g id="w9" class="wg"><use href="#D" x="247" y="916"/><text x="247" y="917.4">265</text></g>
<g id="w10" class="wg"><use href="#D" x="207" y="926"/><text x="207" y="927.4">298</text></g>
<g id="w11" class="wg"><use href="#D" x="227" y="937"/><text x="227" y="938.4">227</text></g>
<g id="w12" class="wg"><use href="#D" x="268" y="937"/><text x="268" y="938.4">243</text></g>
<g id="w13" class="wg"><use href="#D" x="303" y="943"/><text x="303" y="944.4">242</text></g>
<g id="w14" class="wg"><use href="#D" x="247" y="950"/><text x="247" y="951.4">318</text></g>
<g id="w15" class="wg"><use href="#D" x="283" y="956"/><text x="283" y="957.4">206</text></g>
<g id="w16" class="wg"><use href="#D" x="320" y="893"/><text x="320" y="894.4">240</text></g>
<g id="w17" class="wg"><use href="#D" x="322" y="910"/><text x="322" y="911.4">230</text></g>
<g id="w18" class="wg"><use href="#D" x="330" y="927"/><text x="330" y="928.4">226</text></g>
<g id="w19" class="wg"><use href="#D" x="348" y="947"/><text x="348" y="948.4">208</text></g>
<g id="w20" class="wg"><use href="#D" x="358" y="902"/><text x="358" y="903.4">248</text></g>
<g id="t1" class="tl"><use href="#d" x="287" y="438"/><text x="287" y="439.4">38</text></g>
<g id="t2" class="tl"><use href="#d" x="203" y="480"/><text x="203" y="481.4">66</text></g>
<g id="t3" class="tl"><use href="#d" x="224" y="512"/><text x="224" y="513.4">47</text></g>
<g id="t4" class="tl"><use href="#d" x="318" y="523"/><text x="318" y="524.4">51</text></g>
<g id="t5" class="tl"><use href="#d" x="259" y="551"/><text x="259" y="552.4">267</text></g>
<g id="t6" class="tl"><use href="#d" x="343" y="345"/><text x="343" y="346.4">40</text></g>
<g id="t7" class="tl"><use href="#d" x="407" y="368"/><text x="407" y="369.4">80</text></g>
<g id="t8" class="tl"><use href="#d" x="421" y="481"/><text x="421" y="482.4">83</text></g>
<g id="y1" class="ye"><use href="#d" x="141" y="587"/><text x="141" y="588.4">187</text></g>
<g id="y2" class="ye"><use href="#d" x="184" y="593"/><text x="184" y="594.4">236</text></g>
<g id="y3" class="ye"><use href="#d" x="118" y="616"/><text x="118" y="617.4">12</text></g>
<g id="y4" class="ye"><use href="#d" x="108" y="644"/><text x="108" y="645.4">18</text></g>
<g id="y5" class="ye"><use href="#d" x="243" y="623"/><text x="243" y="624.4">281</text></g>
<g id="y6" class="ye"><use href="#d" x="79" y="666"/><text x="79" y="667.4">217</text></g>
<g id="y7" class="ye"><use href="#d" x="79" y="683"/><text x="79" y="684.4">287</text></g>
<g id="y8" class="ye"><use href="#d" x="209" y="680"/><text x="209" y="681.4">296</text></g>
<g id="y9" class="ye"><use href="#d" x="159" y="695"/><text x="159" y="696.4">126</text></g>
<g id="y10" class="ye"><use href="#d" x="180" y="692"/><text x="180" y="693.4">133</text></g>
<g id="y11" class="ye"><use href="#d" x="237" y="698"/><text x="237" y="699.4">74</text></g>
<g id="y12" class="ye"><use href="#d" x="299" y="664"/><text x="299" y="665.4">141</text></g>
<g id="y13" class="ye"><use href="#d" x="110" y="712"/><text x="110" y="713.4">229</text></g>
<g id="y14" class="ye"><use href="#d" x="29" y="735"/><text x="29" y="736.4">54</text></g>
<g id="y15" class="ye"><use href="#d" x="103" y="748"/><text x="103" y="749.4">136</text></g>
<g id="y16" class="ye"><use href="#d" x="180" y="741"/><text x="180" y="742.4">140</text></g>
<g id="y17" class="ye"><use href="#d" x="222" y="741"/><text x="222" y="742.4">127</text></g>
<g id="y18" class="ye"><use href="#d" x="275" y="732"/><text x="275" y="733.4">236</text></g>
<g id="y19" class="ye"><use href="#d" x="273" y="713"/><text x="273" y="714.4">281</text></g>
<g id="y20" class="ye"><use href="#d" x="160" y="755"/><text x="160" y="756.4">262</text></g>
<g id="y21" class="ye"><use href="#d" x="257" y="755"/><text x="257" y="756.4">79</text></g>
<g id="y22" class="ye"><use href="#d" x="85" y="763"/><text x="85" y="764.4">279</text></g>
<g id="y23" class="ye"><use href="#d" x="108" y="772"/><text x="108" y="773.4">140</text></g>
<g id="y24" class="ye"><use href="#d" x="137" y="791"/><text x="137" y="792.4">285</text></g>
<g id="y25" class="ye"><use href="#d" x="160" y="806"/><text x="160" y="807.4">262</text></g>
<g id="y26" class="ye"><use href="#d" x="180" y="787"/><text x="180" y="788.4">293</text></g>
<g id="y27" class="ye"><use href="#d" x="206" y="783"/><text x="206" y="784.4">77</text></g>
<g id="y28" class="ye"><use href="#d" x="195" y="765"/><text x="195" y="766.4">249</text></g>
<g id="y29" class="ye"><use href="#d" x="218" y="772"/><text x="218" y="773.4">127</text></g>
<g id="y30" class="ye"><use href="#d" x="340" y="678"/><text x="340" y="679.4">154</text></g>
<g id="y31" class="fy"><use href="#d" x="617" y="432"/><text x="617" y="433.4">213</text></g>
<g id="y32" class="ye"><use href="#d" x="888" y="775"/><text x="888" y="776.4">8</text></g>
<g id="y33" class="ye"><use href="#d" x="851" y="813"/><text x="851" y="814.4">8</text></g>
<g id="g1" class="dg"><use href="#d" x="432" y="597"/><text x="432" y="598.4">224</text></g>
<g id="g2" class="dg"><use href="#d" x="469" y="593"/><text x="469" y="594.4">206</text></g>
<g id="g3" class="dg"><use href="#d" x="456" y="609"/><text x="456" y="610.4">68</text></g>
<g id="g4" class="dg"><use href="#d" x="455" y="630"/><text x="455" y="631.4">224</text></g>
<g id="g5" class="dg"><use href="#d" x="469" y="642"/><text x="469" y="643.4">82</text></g>
<g id="g6" class="dg"><use href="#d" x="503" y="587"/><text x="503" y="588.4">78</text></g>
<g id="g7" class="dg"><use href="#d" x="537" y="587"/><text x="537" y="588.4">261</text></g>
<g id="g8" class="dg"><use href="#d" x="509" y="645"/><text x="509" y="646.4">274</text></g>
<g id="g9" class="dg"><use href="#d" x="561" y="636"/><text x="561" y="637.4">120</text></g>
<g id="g10" class="dg"><use href="#d" x="613" y="643"/><text x="613" y="644.4">129</text></g>
<g id="g11" class="dg"><use href="#d" x="445" y="679"/><text x="445" y="680.4">98</text></g>
<g id="g12" class="dg"><use href="#d" x="557" y="683"/><text x="557" y="684.4">42</text></g>
<g id="g13" class="dg"><use href="#d" x="647" y="595"/><text x="647" y="596.4">40</text></g>
<g id="g14" class="dg"><use href="#d" x="660" y="647"/><text x="660" y="648.4">120</text></g>
<g id="l1" class="lg"><use href="#d" x="682" y="332"/><text x="682" y="333.4">274</text></g>
<g id="l2" class="lg"><use href="#d" x="711" y="345"/><text x="711" y="346.4">278</text></g>
<g id="l3" class="lg"><use href="#d" x="747" y="336"/><text x="747" y="337.4">275</text></g>
<g id="l4" class="lg"><use href="#d" x="773" y="413"/><text x="773" y="414.4">278</text></g>
<g id="l5" class="bg"><use href="#d" x="747" y="435"/><text x="747" y="436.4">276</text></g>
<g id="l6" class="lg"><use href="#d" x="527" y="727"/><text x="527" y="728.4">221</text></g>
<g id="l7" class="lg"><use href="#d" x="633" y="703"/><text x="633" y="704.4">298</text></g>
<g id="l8" class="lg"><use href="#d" x="620" y="750"/><text x="620" y="751.4">320</text></g>
<g id="l9" class="lg"><use href="#d" x="572" y="771"/><text x="572" y="772.4">237</text></g>
<g id="l10" class="lg"><use href="#d" x="609" y="773"/><text x="609" y="774.4">289</text></g>
<g id="l11" class="lg"><use href="#d" x="783" y="784"/><text x="783" y="785.4">26</text></g>
<g id="l12" class="lg"><use href="#d" x="741" y="794"/><text x="741" y="795.4">123</text></g>
<g id="l13" class="lg"><use href="#d" x="853" y="772"/><text x="853" y="773.4">264</text></g>
<g id="l14" class="lg"><use href="#d" x="655" y="719"/><text x="655" y="720.4">224</text></g>
<g id="l15" class="lg"><use href="#d" x="686" y="729"/><text x="686" y="730.4">117</text></g>
<g id="l16" class="lg"><use href="#d" x="756" y="720"/><text x="756" y="721.4">276</text></g>
<g id="l17" class="lg"><use href="#d" x="782" y="713"/><text x="782" y="714.4">178</text></g>
<g id="l18" class="lg"><use href="#d" x="807" y="723"/><text x="807" y="724.4">274</text></g>
<g id="l19" class="lg"><use href="#d" x="863" y="742"/><text x="863" y="743.4">100</text></g>
<g id="bg1" class="bg"><use href="#d" x="812" y="235"/><text x="812" y="236.4">70</text></g>
<g id="bg2" class="bg"><use href="#d" x="760" y="282"/><text x="760" y="283.4">72</text></g>
<g id="dt1" class="dt"><use href="#d" x="693" y="368"/><text x="693" y="369.4">25</text></g>
<g id="dt2" class="dt"><use href="#d" x="830" y="422"/><text x="830" y="423.4">16</text></g>
<g id="dt3" class="dt"><use href="#d" x="764" y="518"/><text x="764" y="519.4">221</text></g>
<g id="dt4" class="dt"><use href="#d" x="889" y="471"/><text x="889" y="472.4">22</text></g>
<g id="dt5" class="dt"><use href="#d" x="857" y="543"/><text x="857" y="544.4">261</text></g>
<g id="dt6" class="dt"><use href="#d" x="873" y="563"/><text x="873" y="564.4">269</text></g>
<g id="dt7" class="dt"><use href="#d" x="861" y="586"/><text x="861" y="587.4">276</text></g>
<g id="dt8" class="dt"><use href="#d" x="851" y="609"/><text x="851" y="610.4">288</text></g>
<g id="dt9" class="dt"><use href="#d" x="558" y="342"/><text x="558" y="343.4">16</text></g>
<g id="dt10" class="dt"><use href="#d" x="550" y="383"/><text x="550" y="384.4">35</text></g>
<g id="q1" class="tq"><use href="#d" x="917" y="533"/><text x="917" y="534.4">170</text></g>
<g id="q2" class="tq"><use href="#d" x="951" y="535"/><text x="951" y="536.4">16</text></g>
<g id="q3" class="tq"><use href="#d" x="920" y="579"/><text x="920" y="580.4">15</text></g>
<g id="q4" class="tq"><use href="#d" x="791" y="649"/><text x="791" y="650.4">51</text></g>
<g id="q5" class="tq"><use href="#d" x="813" y="673"/><text x="813" y="674.4">241</text></g>
<g id="q6" class="tq"><use href="#d" x="837" y="692"/><text x="837" y="693.4">76</text></g>
<g id="q7" class="tq"><use href="#d" x="873" y="684"/><text x="873" y="685.4">109</text></g>
<g id="q8" class="tq"><use href="#d" x="862" y="707"/><text x="862" y="708.4">182</text></g>
<g id="q9" class="tq"><use href="#d" x="977" y="479"/><text x="977" y="480.4">39</text></g>
<g id="q10" class="tq"><use href="#d" x="1011" y="482"/><text x="1011" y="483.4">18</text></g>
<g id="q11" class="tq"><use href="#d" x="1055" y="490"/><text x="1055" y="491.4">67</text></g>
<g id="q12" class="tq"><use href="#d" x="1038" y="516"/><text x="1038" y="517.4">51</text></g>
<g id="q13" class="tq"><use href="#d" x="980" y="548"/><text x="980" y="549.4">71</text></g>
<g id="q14" class="tq"><use href="#d" x="1144" y="499"/><text x="1144" y="500.4">28</text></g>
<g id="q15" class="tq"><use href="#d" x="1177" y="523"/><text x="1177" y="524.4">31</text></g>
<g id="q16" class="tq"><use href="#d" x="1159" y="558"/><text x="1159" y="559.4">9</text></g>
<g id="q17" class="tq"><use href="#d" x="1129" y="609"/><text x="1129" y="610.4">7</text></g>
<g id="q18" class="tq"><use href="#d" x="1109" y="655"/><text x="1109" y="656.4">17</text></g>
<g id="q19" class="tq"><use href="#d" x="1117" y="660"/><text x="1117" y="661.4">75</text></g>
<g id="q20" class="tq"><use href="#d" x="1145" y="660"/><text x="1145" y="661.4">271</text></g>
<g id="q21" class="tq"><use href="#d" x="1053" y="669"/><text x="1053" y="670.4">185</text></g>
<g id="q22" class="tq"><use href="#d" x="1092" y="673"/><text x="1092" y="674.4">176</text></g>
<g id="q23" class="tq"><use href="#d" x="1092" y="687"/><text x="1092" y="688.4">175</text></g>
<g id="q24" class="tq"><use href="#d" x="1079" y="702"/><text x="1079" y="703.4">172</text></g>
<g id="q25" class="tq"><use href="#d" x="1120" y="695"/><text x="1120" y="696.4">131</text></g>
<g id="q26" class="tq"><use href="#d" x="1172" y="678"/><text x="1172" y="679.4">190</text></g>
<g id="q27" class="tq"><use href="#d" x="1195" y="687"/><text x="1195" y="688.4">193</text></g>
<g id="q28" class="tq"><use href="#d" x="1170" y="700"/><text x="1170" y="701.4">8</text></g>
<g id="q29" class="tq"><use href="#d" x="1191" y="714"/><text x="1191" y="715.4">193</text></g>
<g id="q30" class="tq"><use href="#d" x="1186" y="731"/><text x="1186" y="732.4">108</text></g>
<g id="q31" class="tq"><use href="#d" x="1133" y="725"/><text x="1133" y="726.4">4</text></g>
<g id="q32" class="tq"><use href="#d" x="1099" y="731"/><text x="1099" y="732.4">127</text></g>
<g id="q33" class="tq"><use href="#d" x="1120" y="745"/><text x="1120" y="746.4">2</text></g>
<g id="q34" class="tq"><use href="#d" x="973" y="729"/><text x="973" y="730.4">112</text></g>
<g id="q35" class="tq"><use href="#d" x="1010" y="739"/><text x="1010" y="740.4">217</text></g>
<g id="q36" class="tq"><use href="#d" x="962" y="772"/><text x="962" y="773.4">17</text></g>
<g id="q37" class="tq"><use href="#d" x="1048" y="763"/><text x="1048" y="764.4">6</text></g>
<g id="q38" class="tq"><use href="#d" x="1092" y="764"/><text x="1092" y="765.4">8</text></g>
<g id="q39" class="tq"><use href="#d" x="1135" y="762"/><text x="1135" y="763.4">178</text></g>
<g id="q40" class="tq"><use href="#d" x="1068" y="777"/><text x="1068" y="778.4">6</text></g>
<g id="q41" class="tq"><use href="#d" x="998" y="790"/><text x="998" y="791.4">176</text></g>
<g id="q42" class="tq"><use href="#d" x="1015" y="800"/><text x="1015" y="801.4">163</text></g>
<g id="q43" class="tq"><use href="#d" x="977" y="807"/><text x="977" y="808.4">241</text></g>
<g id="q44" class="tq"><use href="#d" x="869" y="826"/><text x="869" y="827.4">11</text></g>
<g id="b1" class="bl"><use href="#d" x="680" y="248"/><text x="680" y="249.4">274</text></g>
<g id="b2" class="bl"><use href="#d" x="754" y="243"/><text x="754" y="244.4">140</text></g>
<g id="b3" class="bl"><use href="#d" x="308" y="614"/><text x="308" y="615.4">77</text></g>
<g id="b4" class="bl"><use href="#d" x="836" y="847"/><text x="836" y="848.4">41</text></g>
<g id="b5" class="bl"><use href="#d" x="819" y="894"/><text x="819" y="895.4">42</text></g>
<g id="b6" class="bl"><use href="#d" x="936" y="920"/><text x="936" y="921.4">43</text></g>
<g id="b7" class="bl"><use href="#d" x="884" y="937"/><text x="884" y="938.4">277</text></g>
<g id="b8" class="bl"><use href="#d" x="867" y="961"/><text x="867" y="962.4">263</text></g>
<g id="b9" class="bl"><use href="#d" x="909" y="1022"/><text x="909" y="1023.4">211</text></g>
<g id="b10" class="bl"><use href="#d" x="895" y="826"/><text x="895" y="827.4">224</text></g>
<g id="b11" class="bl"><use href="#d" x="1012" y="832"/><text x="1012" y="833.4">30</text></g>
<g id="b12" class="bl"><use href="#d" x="1098" y="851"/><text x="1098" y="852.4">12</text></g>
<g id="b13" class="bl"><use href="#d" x="1165" y="837"/><text x="1165" y="838.4">5</text></g>
<g id="b14" class="bl"><use href="#d" x="1149" y="846"/><text x="1149" y="847.4">4</text></g>
<g id="b15" class="bl"><use href="#d" x="1193" y="850"/><text x="1193" y="851.4">62</text></g>
<g id="b16" class="bl"><use href="#d" x="1223" y="865"/><text x="1223" y="866.4">172</text></g>
<g id="b17" class="bl"><use href="#d" x="1232" y="881"/><text x="1232" y="882.4">29</text></g>
<g id="b18" class="bl"><use href="#d" x="1232" y="901"/><text x="1232" y="902.4">227</text></g>
<g id="b19" class="bl"><use href="#d" x="1010" y="886"/><text x="1010" y="887.4">11</text></g>
<g id="b20" class="bl"><use href="#d" x="986" y="926"/><text x="986" y="927.4">24</text></g>
<g id="b21" class="bl"><use href="#d" x="1189" y="913"/><text x="1189" y="914.4">140</text></g>
<g id="b22" class="bl"><use href="#d" x="1215" y="929"/><text x="1215" y="930.4">228</text></g>
<g id="b23" class="bl"><use href="#d" x="1036" y="946"/><text x="1036" y="947.4">106</text></g>
<g id="b24" class="bl"><use href="#d" x="1076" y="953"/><text x="1076" y="954.4">27</text></g>
<g id="b25" class="bl"><use href="#d" x="1151" y="956"/><text x="1151" y="957.4">60</text></g>
<g id="b26" class="bl"><use href="#d" x="1051" y="963"/><text x="1051" y="964.4">73</text></g>
<g id="b27" class="bl"><use href="#d" x="1027" y="970"/><text x="1027" y="971.4">58</text></g>
<g id="b28" class="bl"><use href="#d" x="1057" y="980"/><text x="1057" y="981.4">67</text></g>
<g id="b29" class="bl"><use href="#d" x="1057" y="997"/><text x="1057" y="998.4">65</text></g>
<g id="c1" class="cy"><use href="#d" x="517" y="779"/><text x="517" y="780.4">229</text></g>
<g id="c2" class="cy"><use href="#d" x="522" y="822"/><text x="522" y="823.4">276</text></g>
<g id="c3" class="cy"><use href="#d" x="372" y="830"/><text x="372" y="831.4">54</text></g>
<g id="c4" class="cy"><use href="#d" x="376" y="854"/><text x="376" y="855.4">275</text></g>
<g id="c5" class="cy"><use href="#d" x="454" y="863"/><text x="454" y="864.4">25</text></g>
<g id="c6" class="cy"><use href="#d" x="464" y="895"/><text x="464" y="896.4">26</text></g>
<g id="c7" class="cy"><use href="#d" x="489" y="908"/><text x="489" y="909.4">81</text></g>
<g id="c8" class="cy"><use href="#d" x="520" y="901"/><text x="520" y="902.4">27</text></g>
<g id="c9" class="cy"><use href="#d" x="406" y="919"/><text x="406" y="920.4">44</text></g>
<g id="c10" class="cy"><use href="#d" x="444" y="919"/><text x="444" y="920.4">46</text></g>
<g id="c11" class="cy"><use href="#d" x="368" y="902"/><text x="368" y="903.4">46</text></g>
<g id="br1" class="br"><use href="#d" x="533" y="755"/><text x="533" y="756.4">40</text></g>
<g id="br2" class="br"><use href="#d" x="607" y="781"/><text x="607" y="782.4">66</text></g>
<g id="br3" class="br"><use href="#d" x="638" y="778"/><text x="638" y="779.4">16</text></g>
<g id="br4" class="br"><use href="#d" x="603" y="828"/><text x="603" y="829.4">243</text></g>
<g id="br5" class="br"><use href="#d" x="541" y="847"/><text x="541" y="848.4">116</text></g>
<g id="br6" class="br"><use href="#d" x="565" y="869"/><text x="565" y="870.4">38</text></g>
<g id="br7" class="br"><use href="#d" x="593" y="866"/><text x="593" y="867.4">19</text></g>
<g id="br8" class="br"><use href="#d" x="615" y="881"/><text x="615" y="882.4">265</text></g>
<g id="br9" class="br"><use href="#d" x="657" y="808"/><text x="657" y="809.4">59</text></g>
<g id="m1" class="mg"><use href="#d" x="753" y="819"/><text x="753" y="820.4">28</text></g>
<g id="m2" class="mg"><use href="#d" x="802" y="824"/><text x="802" y="825.4">221</text></g>
<g id="m3" class="mg"><use href="#d" x="680" y="841"/><text x="680" y="842.4">44</text></g>
<g id="m4" class="mg"><use href="#d" x="749" y="882"/><text x="749" y="883.4">234</text></g>
<g id="m5" class="mg"><use href="#d" x="674" y="909"/><text x="674" y="910.4">36</text></g>
<g id="m6" class="mg"><use href="#d" x="713" y="448"/><text x="713" y="449.4">54</text></g>
<g id="u1" class="pu"><use href="#d" x="642" y="543"/><text x="642" y="544.4">30</text></g>
<g id="u2" class="pu"><use href="#d" x="608" y="613"/><text x="608" y="614.4">201</text></g>
<g id="u3" class="pu"><use href="#d" x="635" y="635"/><text x="635" y="636.4">14</text></g>
<g id="lt1" class="lt"><use href="#d" x="515" y="426"/><text x="515" y="427.4">54</text></g>
<g id="lt2" class="lt"><use href="#d" x="550" y="433"/><text x="550" y="434.4">54</text></g>
<g id="lt3" class="gy"><use href="#d" x="533" y="487"/><text x="533" y="488.4">124</text></g>
<g id="o1" class="or"><use href="#d" x="562" y="907"/><text x="562" y="908.4">245</text></g>
<g id="o2" class="or"><use href="#d" x="553" y="926"/><text x="553" y="927.4">26</text></g>
<g id="o3" class="or"><use href="#d" x="561" y="941"/><text x="561" y="942.4">57</text></g>
<g id="o4" class="or"><use href="#d" x="537" y="963"/><text x="537" y="964.4">221</text></g>
<g id="o5" class="or"><use href="#d" x="609" y="943"/><text x="609" y="944.4">31</text></g>
<g id="o6" class="or"><use href="#d" x="508" y="985"/><text x="508" y="986.4">253</text></g>
<g id="o7" class="or"><use href="#d" x="550" y="981"/><text x="550" y="982.4">303</text></g>
<g id="o8" class="or"><use href="#d" x="488" y="1003"/><text x="488" y="1004.4">257</text></g>
<g id="o9" class="or"><use href="#d" x="563" y="1027"/><text x="563" y="1028.4">136</text></g>
<g id="o10" class="or"><use href="#d" x="522" y="1037"/><text x="522" y="1038.4">146</text></g>
<g id="o11" class="or"><use href="#d" x="587" y="1037"/><text x="587" y="1038.4">148</text></g>
<g id="o12" class="or"><use href="#d" x="609" y="1046"/><text x="609" y="1047.4">61</text></g>
<g id="o13" class="or"><use href="#d" x="566" y="1051"/><text x="566" y="1052.4">171</text></g>
<g id="o14" class="or"><use href="#d" x="532" y="1058"/><text x="532" y="1059.4">34</text></g>
<g id="o15" class="or"><use href="#d" x="523" y="1082"/><text x="523" y="1083.4">43</text></g>
<g id="o16" class="or"><use href="#d" x="537" y="1097"/><text x="537" y="1098.4">41</text></g>
<g id="o17" class="or"><use href="#d" x="578" y="1097"/><text x="578" y="1098.4">33</text></g>
<g id="o18" class="or"><use href="#d" x="622" y="1090"/><text x="622" y="1091.4">52</text></g>
<g id="o19" class="or"><use href="#d" x="630" y="1121"/><text x="630" y="1122.4">162</text></g>
<g id="o20" class="or"><use href="#d" x="781" y="921"/><text x="781" y="922.4">413</text></g>
<g id="o21" class="or"><use href="#d" x="673" y="944"/><text x="673" y="945.4">243</text></g>
<g id="o22" class="or"><use href="#d" x="707" y="939"/><text x="707" y="940.4">51</text></g>
<g id="o23" class="or"><use href="#d" x="722" y="958"/><text x="722" y="959.4">45</text></g>
<g id="o24" class="or"><use href="#d" x="836" y="958"/><text x="836" y="959.4">25</text></g>
<g id="o25" class="or"><use href="#d" x="763" y="999"/><text x="763" y="1000.4">180</text></g>
<g id="o26" class="or"><use href="#d" x="662" y="1010"/><text x="662" y="1011.4">225</text></g>
<g id="o27" class="or"><use href="#d" x="720" y="1008"/><text x="720" y="1009.4">227</text></g>
<g id="o28" class="or"><use href="#d" x="647" y="1033"/><text x="647" y="1034.4">148</text></g>
<g id="o29" class="or"><use href="#d" x="692" y="1039"/><text x="692" y="1040.4">147</text></g>
<g id="o30" class="or"><use href="#d" x="721" y="1058"/><text x="721" y="1059.4">127</text></g>
<g id="o31" class="or"><use href="#d" x="726" y="1074"/><text x="726" y="1075.4">206</text></g>
<g id="o32" class="or"><use href="#d" x="753" y="1081"/><text x="753" y="1082.4">36</text></g>
<g id="o33" class="or"><use href="#d" x="780" y="1063"/><text x="780" y="1064.4">112</text></g>
<g id="o34" class="or"><use href="#d" x="864" y="1032"/><text x="864" y="1033.4">36</text></g>
<g id="o35" class="or"><use href="#d" x="872" y="1046"/><text x="872" y="1047.4">130</text></g>
<g id="o36" class="or"><use href="#d" x="866" y="1063"/><text x="866" y="1064.4">163</text></g>
<g id="o37" class="or"><use href="#d" x="811" y="1078"/><text x="811" y="1079.4">17</text></g>
<g id="o38" class="or"><use href="#d" x="839" y="1083"/><text x="839" y="1084.4">145</text></g>
<g id="o39" class="or"><use href="#d" x="701" y="1098"/><text x="701" y="1099.4">25</text></g>
<g id="o40" class="or"><use href="#d" x="763" y="1097"/><text x="763" y="1098.4">191</text></g>
<g id="o41" class="or"><use href="#d" x="658" y="1107"/><text x="658" y="1108.4">52</text></g>
<g id="o42" class="or"><use href="#d" x="686" y="1121"/><text x="686" y="1122.4">54</text></g>
<g id="o43" class="or"><use href="#d" x="737" y="1118"/><text x="737" y="1119.4">166</text></g>
<g id="xr1" class="xr"><path d="M259,762L281,754L303,762L281,770Z"/></g>
</g>
<g id="nodes">
<g id="n-health" class="pk"><rect x="704" y="15.5" width="28" height="9" rx="3"/><text x="718" y="21.5">Health</text></g>
<g id="n-considerations" class="pk"><rect x="780" y="41.5" width="44" height="9" rx="3"/><text x="802" y="47.5">Considerations</text></g>
<g id="n-dementia1" class="pk"><rect x="623" y="96.5" width="36" height="9" rx="3"/><text x="641" y="102.5">Dementia</text></g>
<g id="n-dementia2" class="pk"><rect x="817" y="96.5" width="32" height="9" rx="3"/><text x="833" y="102.5">Dementia</text></g>
<g id="n-becoming" class="pk"><rect x="738" y="121.5" width="56" height="9" rx="3"/><text x="766" y="127.5">Becoming dependent</text></g>
<g id="n-caregiver" class="pk"><rect x="656" y="153.5" width="54" height="9" rx="3"/><text x="683" y="159.5">Caregiver built BET</text></g>
<g id="n-financial" class="pk"><rect x="585.5" y="161.5" width="41" height="17" rx="1"/><text x="606" y="168.5" class="S">Financial</text><text x="606" y="175" class="S">Disparity</text></g>
<g id="n-notransition" class="pk"><rect x="617" y="222.5" width="60" height="9" rx="3"/><text x="647" y="228.5">No transition for care</text></g>
<g id="n-episodes" class="pk"><rect x="998" y="228.5" width="26" height="9" rx="3"/><text x="1011" y="234.5">Episodes</text></g>
<g id="n-accessing" class="pk"><rect x="935" y="269.5" width="64" height="9" rx="3"/><text x="967" y="275.5">Accessing affirming care</text></g>
<g id="n-aging" class="gy"><rect x="861" y="190" width="44" height="14" rx="1"/><text x="883" y="200.5" class="M">Aging</text></g>
<g id="n-transidentity" class="gy"><rect x="546" y="502" width="48" height="26" rx="1"/><text x="570" y="513" class="M">Trans</text><text x="570" y="523.5" class="M">Identity</text></g>
<g id="n-community" class="gy"><rect x="793" y="629.5" width="65" height="15" rx="1"/><text x="825.5" y="640.5" class="M">Community</text></g>
<g id="n-waysforward" class="gy"><rect x="265" y="854" width="48" height="23" rx="1"/><text x="289" y="863.5" class="M" style="font-size:8px">Ways</text><text x="289" y="872.5" class="M" style="font-size:8px">Forward</text></g>
<g id="n-isolation" class="pu"><rect x="606" y="565" width="48" height="12" rx="1"/><text x="630" y="574.3" class="M" style="font-size:8.5px">Isolation</text></g>
<g id="n-space" class="bl"><rect x="998" y="857.5" width="60" height="11" rx="1"/><text x="1028" y="865" style="font-size:6px">Space</text></g>
<g id="n-mybig" class="bl"><rect x="697" y="186" width="46" height="21" rx="1"/><text x="720" y="192.5" style="font-size:4.5px">My big</text><text x="720" y="198.5" style="font-size:4.5px">depression</text><text x="720" y="204.5" style="font-size:4.5px">thought about it</text></g>
<g id="n-notcentral" class="bl"><rect x="265" y="586.5" width="50" height="9" rx="2"/><text x="290" y="592.5" style="font-size:4.5px">Not central to self</text></g>
<g id="n-type" class="bl"><rect x="1087" y="797" width="26" height="8" rx="3"/><text x="1100" y="802.4">Type?</text></g>
<g id="n-bar" class="bl"><rect x="1169" y="797" width="24" height="8" rx="3"/><text x="1181" y="802.4">Bar</text></g>
<g id="n-clubhouse" class="bl"><rect x="1088" y="819" width="42" height="8" rx="3"/><text x="1109" y="824.4">Clubhouse</text></g>
<g id="n-internet" class="bl"><rect x="1197" y="810.5" width="50" height="9" rx="3"/><text x="1222" y="816.4">Internet/technology</text></g>
<g id="n-consultation" class="bl"><rect x="875" y="853" width="34" height="8" rx="3"/><text x="892" y="858.4">Consultation</text></g>
<g id="n-looking" class="bl"><rect x="909" y="881.5" width="48" height="13" rx="3"/><text x="933" y="887">Looking from</text><text x="933" y="892">community</text></g>
<g id="n-exclusionary" class="bl"><rect x="1015" y="908" width="44" height="8" rx="3"/><text x="1037" y="913.4">Exclusionary</text></g>
<g id="n-canalien" class="bl"><rect x="1112" y="911.5" width="50" height="9" rx="3"/><text x="1137" y="917.4">Can be Alienated</text></g>
<g id="n-personal" class="bl"><rect x="1175" y="877" width="28" height="8" rx="3"/><text x="1189" y="882.4">Personal</text></g>
<g id="n-location" class="bl"><rect x="898" y="970" width="28" height="8" rx="3"/><text x="912" y="975.4">Location</text></g>
<g id="n-larger" class="bl"><rect x="957" y="956" width="38" height="8" rx="3"/><text x="976" y="961.4">Larger: The Exit</text></g>
<g id="n-smallmid" class="bl"><rect x="957" y="984" width="66" height="8" rx="3"/><text x="990" y="989.4">Small to Mid. Why not us?</text></g>
<g id="n-discrimination" class="bk"><rect x="436.5" y="268" width="51" height="10" rx="1"/><text x="462" y="274.8" style="font-size:5.5px">Discrimination</text></g>
<g id="n-ageism" class="bk"><rect x="509" y="320.5" width="26" height="9" rx="1"/><text x="522" y="326.5" class="S">Ageism</text></g>
<g id="n-mentalhealth" class="bk"><rect x="333" y="558.5" width="40" height="9" rx="1"/><text x="353" y="564.6" style="font-size:4.8px">Mental health</text></g>
<g id="n-learned" class="bk"><rect x="359.5" y="648" width="49" height="8" rx="3"/><text x="384" y="653.4">Learned Helplessness</text></g>
<g id="n-transphobia" class="bk"><rect x="387" y="723.5" width="42" height="9" rx="3"/><text x="408" y="729.4">Transphobia</text></g>
<g id="n-remedy" class="bk"><rect x="149.5" y="823.5" width="27" height="9" rx="1"/><text x="163" y="829.4">Remedy</text></g>
<g id="n-safety" class="tl"><rect x="317" y="371" width="52" height="8" rx="3"/><text x="343" y="376.4">Safety: Self and others</text></g>
<g id="n-homophobia" class="tl"><rect x="383" y="396.5" width="36" height="9" rx="3"/><text x="401" y="402.4">Homophobia</text></g>
<g id="n-masculinity" class="tl"><rect x="363" y="444.5" width="40" height="9" rx="3"/><text x="383" y="450.4">Masculinity</text></g>
<g id="n-lesbian" class="tl"><rect x="383" y="460" width="26" height="8" rx="3"/><text x="396" y="465.4">Lesbian</text></g>
<g id="n-passing" class="tl"><rect x="252.5" y="467.5" width="49" height="9" rx="3"/><text x="277" y="473.4">Passing/Presentation</text></g>
<g id="n-transcis" class="tl"><rect x="331" y="502" width="58" height="8" rx="3"/><text x="360" y="507.4">Trans/cis/other/homo couple</text></g>
<g id="n-agegap" class="tl"><rect x="249.5" y="522.5" width="37" height="9" rx="3"/><text x="268" y="528.4">Age gap/other</text></g>
<g id="n-working" class="ye"><rect x="148" y="635.5" width="26" height="9" rx="3"/><text x="161" y="641.4">Working</text></g>
<g id="n-interactions" class="ye"><rect x="199" y="650" width="62" height="12" rx="3"/><text x="230" y="655">Interactions with medical</text><text x="230" y="660">professionals</text></g>
<g id="n-healthcare" class="ye"><rect x="298" y="625.5" width="32" height="9" rx="3"/><text x="314" y="631.4">Healthcare</text></g>
<g id="n-educating" class="ye"><rect x="118.5" y="661.5" width="25" height="9" rx="3"/><text x="131" y="667.4">Educating</text></g>
<g id="n-ignorance" class="ye"><rect x="175" y="714.5" width="40" height="9" rx="3"/><text x="195" y="720.4">Ignorance/Avoidance</text></g>
<g id="n-normalizing" class="ye"><rect x="63" y="723" width="50" height="12" rx="3"/><text x="88" y="728">Normalizing trans</text><text x="88" y="733">people</text></g>
<g id="n-transition" class="ye"><rect x="303" y="702" width="30" height="8" rx="3"/><text x="318" y="707.4">Transition</text></g>
<g id="n-religion" class="ye"><rect x="817.5" y="787.5" width="51" height="9" rx="3"/><text x="843" y="793.4">Religion/Spirituality</text></g>
<g id="n-freetobe" class="fy"><rect x="594.5" y="457.5" width="33" height="9" rx="1"/><text x="611" y="463.4">Free To Be</text></g>
<g id="n-transmasc" class="dg"><rect x="435" y="572" width="34" height="8" rx="3"/><text x="452" y="577.4">Transmasculine</text></g>
<g id="n-advocacy" class="dg"><rect x="507.5" y="615" width="29" height="8" rx="1"/><text x="522" y="620.4">Advocacy</text></g>
<g id="n-care" class="dg"><rect x="483" y="662.5" width="24" height="9" rx="3"/><text x="495" y="668.4">Care</text></g>
<g id="n-burnout" class="dg"><rect x="527.5" y="651" width="25" height="8" rx="3"/><text x="540" y="656.4">Burnout</text></g>
<g id="n-givingback" class="dg"><rect x="579.5" y="665" width="35" height="10" rx="1"/><text x="597" y="671.4">Giving Back</text></g>
<g id="n-connecting" class="lg"><rect x="686.5" y="291.5" width="85" height="13" rx="1"/><text x="729" y="297">Connecting over aging</text><text x="729" y="302">experiences</text></g>
<g id="n-mentoring" class="lg"><rect x="576.5" y="721" width="31" height="8" rx="3"/><text x="592" y="726.4">Mentoring</text></g>
<g id="n-helping" class="lg"><rect x="761" y="380" width="62" height="9" rx="3"/><text x="792" y="385.9">Helping one another</text></g>
<g id="n-education" class="lg"><rect x="693" y="692.5" width="26" height="9" rx="3"/><text x="706" y="698.4">Education</text></g>
<g id="n-challenges" class="lg"><rect x="669" y="773" width="40" height="8" rx="1"/><text x="689" y="778.4">Challenges</text></g>
<g id="n-lasting" class="lg"><rect x="773" y="748.5" width="52" height="9" rx="3"/><text x="799" y="754.4">Lasting Friends</text></g>
<g id="n-relationships" class="bg"><rect x="775.5" y="251.5" width="31" height="9" rx="3"/><text x="791" y="257.4">Relationships</text></g>
<g id="n-mindset" class="bg"><rect x="812.5" y="291" width="37" height="8" rx="1"/><text x="831" y="296.4">Mindset</text></g>
<g id="n-wellness" class="bg"><rect x="843.5" y="326" width="27" height="8" rx="3"/><text x="857" y="331.4">Wellness</text></g>
<g id="n-habits" class="bg"><rect x="833" y="366" width="24" height="8" rx="3"/><text x="845" y="371.4">Habits</text></g>
<g id="n-provision" class="rd"><rect x="912" y="297.5" width="48" height="9" rx="1"/><text x="936" y="303.4">Provision of care</text></g>
<g id="n-educationr" class="rd"><rect x="903" y="332" width="40" height="8" rx="4"/><text x="923" y="337.4">Education</text></g>
<g id="n-ltc" class="rd"><rect x="1013" y="376.5" width="24" height="9" rx="3"/><text x="1025" y="382.4">LTC</text></g>
<g id="n-services" class="rd"><rect x="963" y="396" width="24" height="8" rx="3"/><text x="975" y="401.4">Services</text></g>
<g id="n-communication" class="rd"><rect x="996.5" y="440.5" width="45" height="9" rx="3"/><text x="1019" y="446.4">Communication</text></g>
<g id="n-cost" class="rd"><rect x="861.5" y="449" width="23" height="8" rx="3"/><text x="873" y="454.4">Cost</text></g>
<g id="n-generational" class="dt"><rect x="743" y="450.5" width="72" height="9" rx="1"/><text x="779" y="456.4">Generational disconnection</text></g>
<g id="n-intergen" class="dt"><rect x="830.5" y="505.5" width="49" height="9" rx="1"/><text x="855" y="511.4">Intergenerational?</text></g>
<g id="n-olderqueer" class="dt"><rect x="765.5" y="538.5" width="61" height="9" rx="3"/><text x="796" y="544.4">Older queer trans folks?</text></g>
<g id="n-transcomm" class="dt"><rect x="757.5" y="581.5" width="51" height="9" rx="1"/><text x="783" y="587.4">Trans Community?</text></g>
<g id="n-veryfew" class="dt"><rect x="568.5" y="363" width="67" height="10" rx="4"/><text x="602" y="369.4">Very few older trans men</text></g>
<g id="n-lowsupport" class="tq"><rect x="976" y="506" width="34" height="8" rx="3"/><text x="993" y="511.4">Low Support</text></g>
<g id="n-communities" class="tq"><rect x="1003" y="539" width="72" height="14" rx="3"/><text x="1039" y="545">Communities - No need for</text><text x="1039" y="550.5">queer trans folks</text></g>
<g id="n-platonic" class="tq"><rect x="997" y="589" width="45" height="16" rx="1"/><text x="1019" y="595.5">Platonic social</text><text x="1019" y="601">contacts</text></g>
<g id="n-microsocial" class="tq"><rect x="1064" y="609" width="38" height="14" rx="3"/><text x="1083" y="615">Microsocial /</text><text x="1083" y="620.5">Emotional ties</text></g>
<g id="n-intimacy" class="tq"><rect x="1108" y="518.5" width="38" height="9" rx="3"/><text x="1127" y="524.4">Intimacy</text></g>
<g id="n-spacesys" class="tq"><rect x="1130.5" y="573.5" width="57" height="9" rx="3"/><text x="1159" y="579.4">Space/systematic change</text></g>
<g id="n-friends" class="tq"><rect x="1019.5" y="687" width="25" height="8" rx="3"/><text x="1032" y="692.4">Friends</text></g>
<g id="n-relchosen" class="tq"><rect x="957" y="701" width="62" height="8" rx="3"/><text x="988" y="706.4">Relationship with chosen</text></g>
<g id="n-belonging" class="tq"><rect x="1029" y="723.5" width="36" height="9" rx="3"/><text x="1047" y="729.4">Belonging</text></g>
<g id="n-generationalq" class="tq"><rect x="981" y="747.5" width="36" height="9" rx="3"/><text x="999" y="753.4">Generational</text></g>
<g id="n-notasked" class="tq"><rect x="1097" y="698" width="38" height="10" rx="3"/><text x="1116" y="704.4">Not being asked</text></g>
<g id="n-intersections" class="tq"><rect x="887" y="715.5" width="36" height="9" rx="3"/><text x="905" y="721.4">Intersections</text></g>
<g id="n-supportive" class="tq"><rect x="818" y="649.5" width="44" height="9" rx="3"/><text x="840" y="655.4">Supportive/social</text></g>
<g id="n-lgbt" class="cy"><rect x="450" y="801" width="40" height="10" rx="1"/><text x="470" y="807.6" style="font-size:4.8px">LGBT united?</text></g>
<g id="n-diverse" class="cy"><rect x="438.5" y="833.5" width="45" height="9" rx="4"/><text x="461" y="839.4">Diverse</text></g>
<g id="n-transmen" class="cy"><rect x="400.5" y="876.5" width="47" height="9" rx="4"/><text x="424" y="882.4">Trans men vs women</text></g>
<g id="n-transmascvs" class="cy"><rect x="478.5" y="868.5" width="59" height="9" rx="4"/><text x="508" y="874.4">Transmasc vs. transgender</text></g>
<g id="n-privilege" class="br"><rect x="551" y="787" width="42" height="10" rx="1"/><text x="572" y="793.6" class="S">Privilege</text></g>
<g id="n-age" class="br"><rect x="609" y="800.5" width="24" height="9" rx="3"/><text x="621" y="806.6" class="S">Age</text></g>
<g id="n-urban" class="br"><rect x="559.5" y="833" width="43" height="10" rx="4"/><text x="581" y="839.4">Urban vs. rural</text></g>
<g id="n-transfolks" class="mg"><rect x="657" y="477" width="50" height="12" rx="5"/><text x="682" y="482">Trans folks transitioned</text><text x="682" y="487">later in life</text></g>
<g id="n-pride" class="mg"><rect x="712.5" y="852.5" width="25" height="9" rx="1"/><text x="725" y="858.4">Pride</text></g>
<g id="n-forpriv" class="mg"><rect x="636.5" y="857.5" width="45" height="9" rx="4"/><text x="659" y="863.4">For the privileged</text></g>
<g id="n-notafraid" class="mg"><rect x="631" y="876.5" width="48" height="13" rx="5"/><text x="655" y="882">Not afraid to</text><text x="655" y="887">question it</text></g>
<g id="n-olderadult" class="or"><rect x="609" y="917.5" width="36" height="9" rx="3"/><text x="627" y="923.4">Older adult</text></g>
<g id="n-youngold" class="or"><rect x="568.5" y="962" width="43" height="14" rx="5"/><text x="590" y="968">Young and old</text><text x="590" y="973">together</text></g>
<g id="n-programming" class="or"><rect x="665" y="974" width="50" height="10" rx="1"/><text x="690" y="980.6" style="font-size:4.8px">Programming</text></g>
<g id="n-online" class="or"><rect x="546.5" y="1003" width="25" height="8" rx="3"/><text x="559" y="1008.4">Online</text></g>
<g id="n-funding" class="or"><rect x="792" y="984" width="48" height="14" rx="6"/><text x="816" y="990">Funding?</text><text x="816" y="995.5">Facilitators?</text></g>
<g id="n-finances" class="or"><rect x="788.5" y="1011.5" width="27" height="9" rx="3"/><text x="802" y="1017.4">Finances</text></g>
<g id="n-access" class="or"><rect x="729" y="1016.5" width="30" height="9" rx="3"/><text x="744" y="1022.4">Access</text></g>
<g id="n-timing" class="or"><rect x="739.5" y="1044.5" width="25" height="9" rx="3"/><text x="752" y="1050.4">Timing</text></g>
<g id="n-transportation" class="or"><rect x="802.5" y="1041" width="37" height="10" rx="3"/><text x="821" y="1047.4">Transportation</text></g>
<g id="n-social" class="or"><rect x="573.5" y="1070" width="45" height="10" rx="4"/><text x="596" y="1076.4">Social</text></g>
<g id="n-support" class="or"><rect x="648" y="1065.5" width="40" height="9" rx="3"/><text x="668" y="1071.4">Support</text></g>
<g id="n-fullrange" class="lt"><rect x="507.5" y="457.5" width="61" height="9" rx="1"/><text x="538" y="463.4">Full range of expression</text></g>
<g id="n-analysis" class="lt"><rect x="511.5" y="543.5" width="53" height="9" rx="1"/><text x="538" y="549.4">Analysis #1</text></g>
</g>
</svg>
